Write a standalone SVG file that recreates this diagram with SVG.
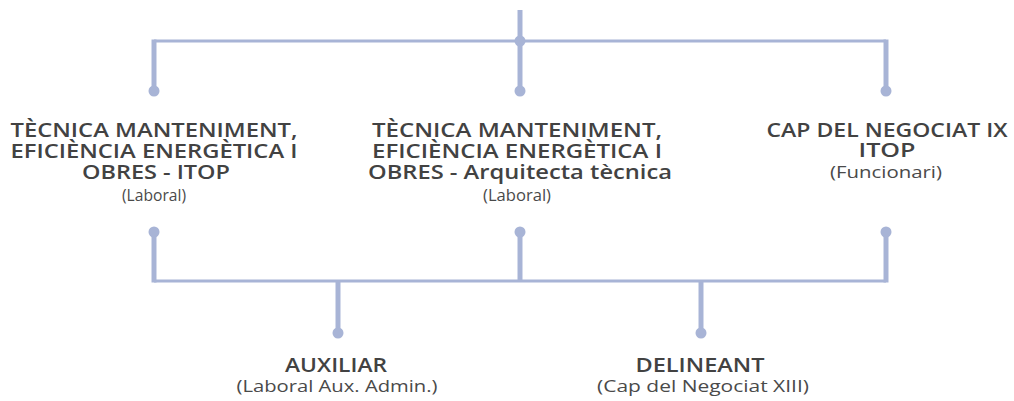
<svg xmlns="http://www.w3.org/2000/svg" width="1014" height="401" viewBox="0 0 1014 401">
<style>
.ln{stroke:#a8b4d6;fill:none;stroke-linecap:butt}
.v{stroke-width:5}
.h{stroke-width:3}
.dot{fill:#a8b4d6}
.t{font-family:"Open Sans","Liberation Sans",sans-serif;font-size:20px;font-weight:600;fill:#424242;text-anchor:middle}
.s{font-family:"Open Sans","Liberation Sans",sans-serif;font-size:17px;font-weight:400;fill:#4a4a4a;text-anchor:middle}
</style>
<rect width="1014" height="401" fill="#ffffff"/>
<g id="connectors">
<line class="ln v" x1="520" y1="10" x2="520" y2="91"/>
<line class="ln h" x1="154" y1="41" x2="886" y2="41"/>
<line class="ln v" x1="154" y1="39.5" x2="154" y2="91"/>
<line class="ln v" x1="886" y1="39.5" x2="886" y2="91"/>
<circle class="dot" cx="520" cy="41" r="5.5"/>
<circle class="dot" cx="154" cy="91" r="5.5"/>
<circle class="dot" cx="520" cy="91" r="5.5"/>
<circle class="dot" cx="886" cy="91" r="5.5"/>
<line class="ln v" x1="154" y1="232" x2="154" y2="282.5"/>
<line class="ln v" x1="520" y1="232" x2="520" y2="281"/>
<line class="ln v" x1="886" y1="232" x2="886" y2="282.5"/>
<circle class="dot" cx="154" cy="232" r="5.5"/>
<circle class="dot" cx="520" cy="232" r="5.5"/>
<circle class="dot" cx="886" cy="232" r="5.5"/>
<line class="ln h" x1="154" y1="281" x2="886" y2="281"/>
<line class="ln v" x1="338" y1="281" x2="338" y2="333"/>
<line class="ln v" x1="701" y1="281" x2="701" y2="333"/>
<circle class="dot" cx="338" cy="333" r="5.5"/>
<circle class="dot" cx="701" cy="333" r="5.5"/>
</g>
<g id="node-tecnica-itop">
<text class="t" x="154" y="137" textLength="287" lengthAdjust="spacingAndGlyphs">TÈCNICA MANTENIMENT,</text>
<text class="t" x="154" y="158" textLength="287" lengthAdjust="spacingAndGlyphs">EFICIÈNCIA ENERGÈTICA I</text>
<text class="t" x="156" y="179" textLength="148" lengthAdjust="spacingAndGlyphs">OBRES - ITOP</text>
<text class="s" x="154" y="201" textLength="64" lengthAdjust="spacingAndGlyphs">(Laboral)</text>
</g>
<g id="node-tecnica-arquitecta">
<text class="t" x="517" y="137" textLength="290" lengthAdjust="spacingAndGlyphs">TÈCNICA MANTENIMENT,</text>
<text class="t" x="517" y="158" textLength="290" lengthAdjust="spacingAndGlyphs">EFICIÈNCIA ENERGÈTICA I</text>
<text class="t" x="520" y="179" textLength="304" lengthAdjust="spacingAndGlyphs">OBRES - Arquitecta tècnica</text>
<text class="s" x="517" y="201" textLength="68" lengthAdjust="spacingAndGlyphs">(Laboral)</text>
</g>
<g id="node-cap-negociat-ix">
<text class="t" x="887" y="137" textLength="241" lengthAdjust="spacingAndGlyphs">CAP DEL NEGOCIAT IX</text>
<text class="t" x="887" y="157" textLength="57" lengthAdjust="spacingAndGlyphs">ITOP</text>
<text class="s" x="886" y="178" textLength="112" lengthAdjust="spacingAndGlyphs">(Funcionari)</text>
</g>
<g id="node-auxiliar">
<text class="t" x="336" y="372" textLength="102" lengthAdjust="spacingAndGlyphs">AUXILIAR</text>
<text class="s" x="337" y="392" textLength="201" lengthAdjust="spacingAndGlyphs">(Laboral Aux. Admin.)</text>
</g>
<g id="node-delineant">
<text class="t" x="700" y="372" textLength="129" lengthAdjust="spacingAndGlyphs">DELINEANT</text>
<text class="s" x="703" y="392" textLength="212" lengthAdjust="spacingAndGlyphs">(Cap del Negociat XIII)</text>
</g>
</svg>
